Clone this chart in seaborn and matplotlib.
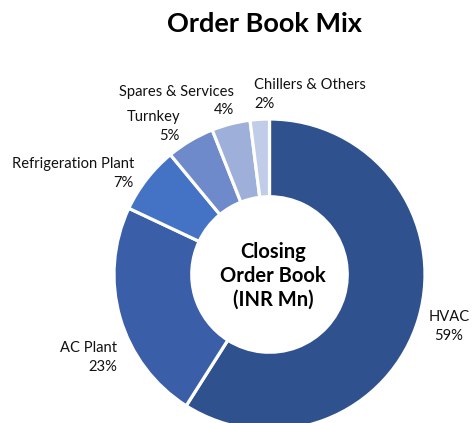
import matplotlib
matplotlib.use("Agg")
import matplotlib.pyplot as plt
import seaborn as sns

# order book mix, % share
categories = ["HVAC", "AC Plant", "Refrigeration Plant", "Turnkey",
              "Spares & Services", "Chillers & Others"]
shares = [59, 23, 7, 5, 4, 2]
colors = ["#2F528F", "#3A5EA7", "#4472C4", "#6E8ACB", "#9EAFDA", "#C1CCE9"]

sns.set_theme(style="white")
plt.rcParams["font.family"] = ["Lato", "DejaVu Sans"]

W, H = 473, 423
fig = plt.figure(figsize=(W / 100, H / 100), dpi=100)
ax = fig.add_axes([0, 0, 1, 1])

# donut centre / radius in pixels
cx, cy, r = 269.5, 274.5, 155.5
ax.pie(shares, colors=colors, startangle=90, counterclock=False, radius=1,
       wedgeprops=dict(width=0.5, edgecolor="white", linewidth=2.3))
ax.set_xlim(-cx / r, (W - cx) / r)
ax.set_ylim(-(H - cy) / r, cy / r)
ax.set_aspect("auto")
ax.axis("off")

# label anchors: (x, y of name line, ha) in pixels, pct line ~19px below
label_pos = [(449, 317, "center"), (117, 348, "right"), (134, 164, "right"),
             (180, 117, "right"), (234, 92, "right"), (254, 85, "left")]
for cat, val, (px, py, ha) in zip(categories, shares, label_pos):
    fig.text(px / W, 1 - py / H, cat, ha=ha, va="center",
             fontsize=10.6, color="#111111")
    fig.text(px / W, 1 - (py + 18.5) / H, f"{val}%", ha=ha, va="center",
             fontsize=10.6, color="#111111")

fig.text(273 / W, 1 - 276 / H, "Closing\nOrder Book\n(INR Mn)", ha="center",
         va="center", fontsize=14.5, fontweight="bold", linespacing=1.25,
         color="black")
fig.text(264 / W, 1 - 24 / H, "Order Book Mix", ha="center", va="center",
         fontsize=19.5, fontweight="bold", color="black")

fig.savefig("out.png", dpi=100)
